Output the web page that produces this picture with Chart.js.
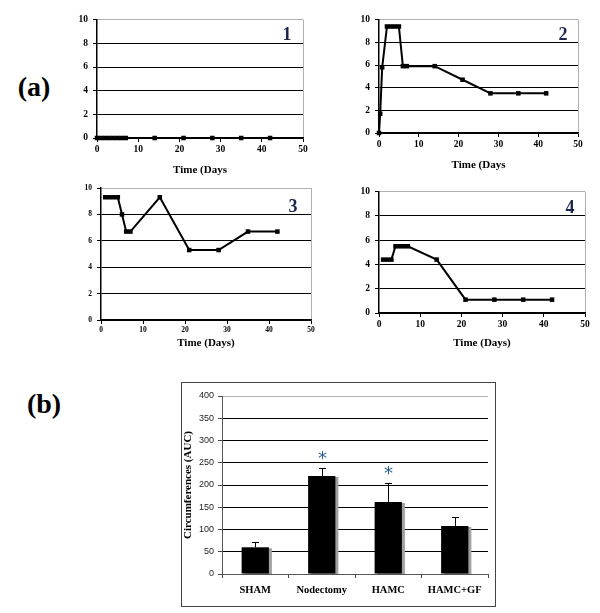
<!DOCTYPE html>
<html>
<head>
<meta charset="utf-8">
<script src="https://cdn.jsdelivr.net/npm/chart.js@4.4.0/dist/chart.umd.min.js"></script>
<style>
body { margin: 0; background: #fff; width: 600px; height: 613px; position: relative; overflow: hidden; font-family: "Liberation Serif", serif; }
canvas { position: absolute; }
.lbl { position: absolute; font-weight: bold; transform: translate(-50%, -50%); white-space: nowrap; line-height: 1; }
.num { font-size: 18px; color: #1c2450; }
.panel { font-size: 28px; color: #000; }
#box { position: absolute; left: 181px; top: 382px; width: 313px; height: 223px; border: 1px solid #444; }
</style>
</head>
<body>
<div class="lbl panel" style="left:34px;top:87px">(a)</div>
<div class="lbl panel" style="left:44px;top:404px">(b)</div>

<canvas id="c1"></canvas>
<canvas id="c2"></canvas>
<canvas id="c3"></canvas>
<canvas id="c4"></canvas>
<div class="lbl num" style="left:287px;top:34px">1</div>
<div class="lbl num" style="left:563px;top:34px">2</div>
<div class="lbl num" style="left:293px;top:206px">3</div>
<div class="lbl num" style="left:570px;top:207px">4</div>

<div id="box"></div>
<canvas id="c5"></canvas>

<script>
// ---- data (a): score per mouse over time ----
const days1 = [0, 1, 2, 3, 4, 5, 6, 7, 14, 21, 28, 35, 42];
const mouse1 = [0, 0, 0, 0, 0, 0, 0, 0, 0, 0, 0, 0, 0];

const days2 = [0, 0.3, 0.8, 2, 3, 4, 5, 6, 7, 14, 21, 28, 35, 42];
const mouse2 = [0, 1.7, 5.8, 9.4, 9.4, 9.4, 9.4, 5.9, 5.9, 5.9, 4.7, 3.5, 3.5, 3.5];

const days3 = [1, 2, 3, 4, 5, 6, 7, 14, 21, 28, 35, 42];
const mouse3 = [9.3, 9.3, 9.3, 9.3, 8.0, 6.7, 6.7, 9.3, 5.3, 5.3, 6.7, 6.7];

const days4 = [1, 2, 3, 4, 5, 6, 7, 14, 21, 28, 35, 42];
const mouse4 = [4.4, 4.4, 4.4, 5.5, 5.5, 5.5, 5.5, 4.4, 1.1, 1.1, 1.1, 1.1];

// ---- data (b): AUC per group ----
const groups = ['SHAM', 'Nodectomy', 'HAMC', 'HAMC+GF'];
const auc = [60, 220, 162, 108];
const aucErr = [13, 19, 42, 19];
const stars = ['', '*', '*', ''];

const serif = '"Liberation Serif", "Times New Roman", serif';
const sans = '"Liberation Sans", Arial, sans-serif';

function timeChart(id, days, values, area, bottom, tickSize, title) {
    const yW = 30, padTop = 10, padRight = 14;
    const cv = document.getElementById(id);
    const left = area.x0 - yW, top = area.y0 - padTop;
    cv.width = area.x1 - left + padRight;
    cv.height = bottom - top;
    cv.style.left = left + 'px';
    cv.style.top = top + 'px';

    new Chart(cv, {
        type: 'line',
        data: {
            datasets: [{
                data: days.map((d, i) => ({ x: d, y: values[i] })),
                borderColor: '#000',
                backgroundColor: '#000',
                borderWidth: 2,
                pointStyle: 'rect',
                pointRadius: 3.2,
                pointBorderWidth: 0,
                tension: 0,
                clip: false
            }]
        },
        options: {
            responsive: false,
            animation: false,
            layout: { padding: { top: padTop, right: padRight, left: 0, bottom: 0 } },
            plugins: { legend: { display: false }, tooltip: { enabled: false } },
            scales: {
                x: {
                    type: 'linear', min: 0, max: 50,
                    ticks: { stepSize: 10, color: '#000', padding: 2, font: { family: serif, size: tickSize, weight: 'bold' } },
                    grid: {
                        color: c => c.tick && c.tick.value === 50 ? '#b0b0b0' : 'rgba(0,0,0,0)',
                        tickColor: '#000', tickLength: 4
                    },
                    border: { color: '#000', width: 1.5 },
                    title: { display: true, text: title, color: '#000', padding: 0, font: { family: serif, size: 11, weight: 'bold' } },
                    afterFit: s => { s.height = bottom - area.y1; }
                },
                y: {
                    min: 0, max: 10,
                    ticks: { stepSize: 2, color: '#000', padding: 5, font: { family: serif, size: tickSize, weight: 'bold' } },
                    grid: {
                        color: c => c.tick && c.tick.value === 10 ? '#b0b0b0' : '#000',
                        tickColor: '#000', tickLength: 4
                    },
                    border: { color: '#000', width: 1.5 },
                    afterFit: s => { s.width = yW; }
                }
            }
        }
    });
}

timeChart('c1', days1, mouse1, { x0: 97, x1: 303, y0: 19, y1: 138 }, 177, 9.5, 'Time (Days');
timeChart('c2', days2, mouse2, { x0: 379, x1: 578, y0: 19, y1: 133 }, 172, 9.5, 'Time (Days');
timeChart('c3', days3, mouse3, { x0: 101, x1: 311, y0: 188, y1: 320 }, 350, 7.5, 'Time (Days)');
timeChart('c4', days4, mouse4, { x0: 379, x1: 585, y0: 191, y1: 313 }, 350, 9.5, 'Time (Days)');

// ---- (b) bar chart ----
const barShadow = {
    id: 'barShadow',
    beforeDatasetsDraw(chart) {
        const c = chart.ctx;
        c.save();
        c.shadowColor = '#a0a0a0';
        c.shadowOffsetX = 3;
        c.shadowOffsetY = 1;
        c.shadowBlur = 0;
    },
    afterDatasetsDraw(chart) {
        chart.ctx.restore();
    }
};

const errorBars = {
    id: 'errorBars',
    afterDatasetsDraw(chart) {
        const { ctx, scales: { x, y } } = chart;
        ctx.save();
        ctx.strokeStyle = '#000';
        ctx.lineWidth = 1;
        auc.forEach((v, i) => {
            const px = Math.round(x.getPixelForValue(i)) + 0.5;
            const base = y.getPixelForValue(v);
            const top = Math.round(y.getPixelForValue(v + aucErr[i])) + 0.5;
            ctx.beginPath();
            ctx.moveTo(px, base);
            ctx.lineTo(px, top);
            ctx.moveTo(px - 3.5, top);
            ctx.lineTo(px + 3.5, top);
            ctx.stroke();
            if (stars[i]) {
                ctx.fillStyle = '#2b5f8e';
                ctx.font = '18px "DejaVu Sans", sans-serif';
                ctx.textAlign = 'center';
                ctx.textBaseline = 'alphabetic';
                ctx.fillText(stars[i], px, top - 5);
            }
        });
        ctx.restore();
    }
};

(function () {
    const area = { x0: 222, x1: 488, y0: 396, y1: 574 };
    const yW = 40, padTop = 11, padRight = 6, bottom = 604;
    const cv = document.getElementById('c5');
    const left = area.x0 - yW, top = area.y0 - padTop;
    cv.width = area.x1 - left + padRight;
    cv.height = bottom - top;
    cv.style.left = left + 'px';
    cv.style.top = top + 'px';

    new Chart(cv, {
        type: 'bar',
        data: {
            labels: groups,
            datasets: [{
                data: auc,
                backgroundColor: '#000',
                borderWidth: 0,
                barPercentage: 0.41,
                categoryPercentage: 1
            }]
        },
        plugins: [barShadow, errorBars],
        options: {
            responsive: false,
            animation: false,
            layout: { padding: { top: padTop, right: padRight, left: 0, bottom: 0 } },
            plugins: { legend: { display: false }, tooltip: { enabled: false } },
            scales: {
                x: {
                    ticks: { color: '#000', padding: 6, font: { family: serif, size: 10.5, weight: 'bold' } },
                    grid: {
                        color: c => c.index === groups.length ? '#b0b0b0' : 'rgba(0,0,0,0)',
                        tickColor: '#444', tickLength: 4
                    },
                    border: { color: '#555', width: 1 },
                    afterFit: s => { s.height = bottom - area.y1; }
                },
                y: {
                    min: 0, max: 400,
                    ticks: { stepSize: 50, color: '#222', padding: 4, font: { family: sans, size: 9 } },
                    grid: {
                        color: c => c.tick && c.tick.value === 400 ? '#b0b0b0' : '#000',
                        tickColor: '#444', tickLength: 4
                    },
                    border: { color: '#555', width: 1 },
                    title: { display: true, text: 'Circumferences (AUC)', color: '#000', padding: 0, font: { family: serif, size: 11, weight: 'bold' } },
                    afterFit: s => { s.width = yW; }
                }
            }
        }
    });
})();
</script>
</body>
</html>
